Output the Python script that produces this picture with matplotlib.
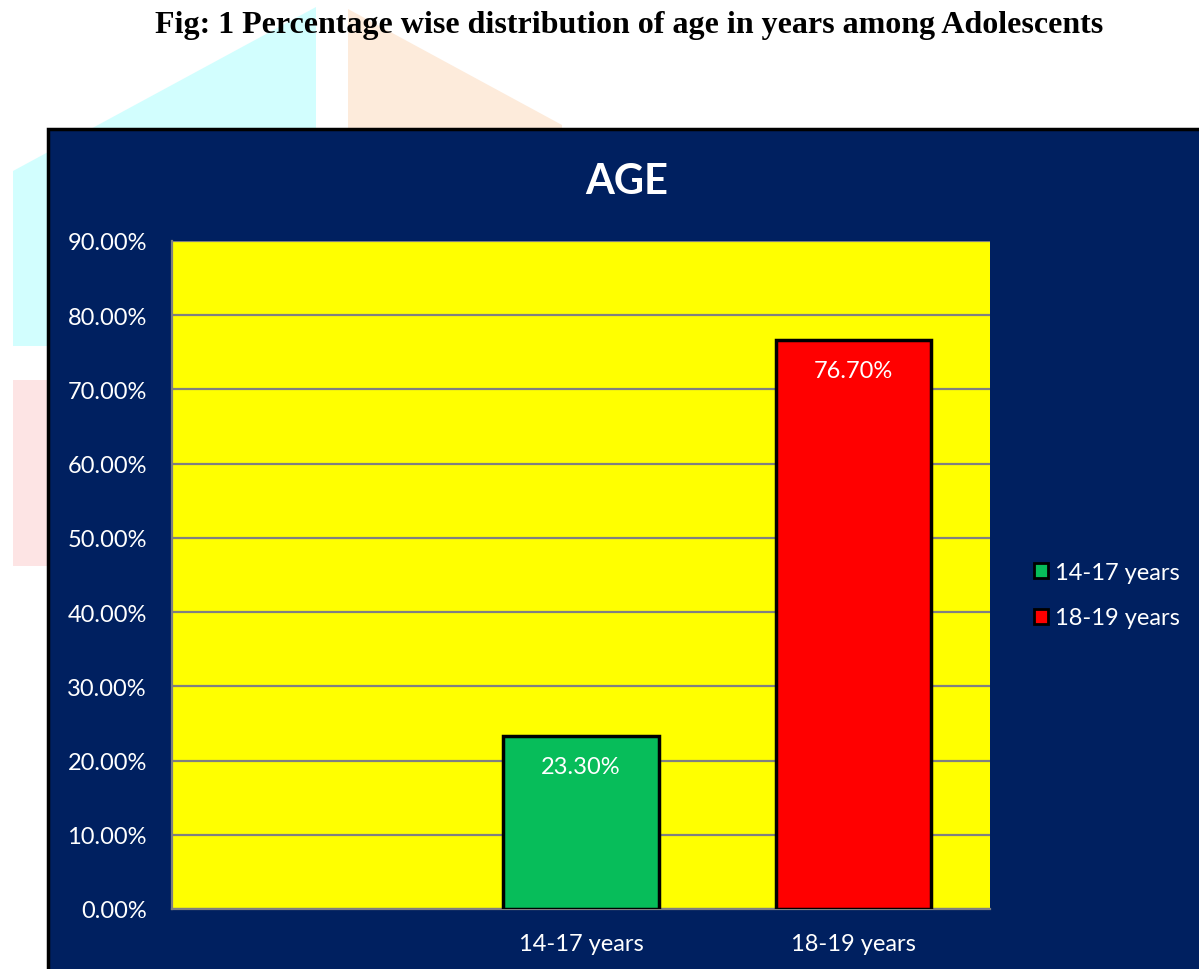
"""Age distribution bar chart (Excel-style)."""

import matplotlib

matplotlib.use("Agg")
import matplotlib.pyplot as plt
from matplotlib.patches import Patch, Polygon, Rectangle
from matplotlib.ticker import FuncFormatter

categories = ["", "14-17 years", "18-19 years"]
series_names = ["14-17 years", "18-19 years"]
series_pos = [1, 2]
series_values = [23.30, 76.70]
series_colors = ["#07BD5A", "#FF0000"]
y_ticks = [0, 10, 20, 30, 40, 50, 60, 70, 80, 90]

NAVY = "#002060"
W, H = 1199, 970

plt.rcParams["font.family"] = ["Lato", "DejaVu Sans"]

fig = plt.figure(figsize=(W / 100, H / 100), dpi=100)
fig.patch.set_facecolor("white")


def px(points):
    return [(x / W, 1 - y / H) for x, y in points]


# faint watermark pieces behind the chart box
fig.patches.append(Polygon(px([(316, 8), (316, 347), (13, 347), (13, 172)]),
                           closed=True, transform=fig.transFigure,
                           facecolor="#D2FEFE", edgecolor="none", zorder=0))
fig.patches.append(Polygon(px([(348, 10), (348, 130), (562, 130), (562, 126)]),
                           closed=True, transform=fig.transFigure,
                           facecolor="#FDEBDB", edgecolor="none", zorder=0))
fig.patches.append(Polygon(px([(13, 381), (48, 381), (48, 567), (13, 567)]),
                           closed=True, transform=fig.transFigure,
                           facecolor="#FDE4E4", edgecolor="none", zorder=0))

# navy chart box with black frame on left/top
fig.patches.append(Rectangle((48 / W, -0.01), 1.0, (H - 130) / H + 0.01,
                             transform=fig.transFigure, facecolor=NAVY,
                             edgecolor="black", linewidth=2.5, zorder=1))

fig.text(629 / W, 1 - 26 / H,
         "Fig: 1 Percentage wise distribution of age in years among Adolescents",
         ha="center", va="center", fontsize=23, fontweight="bold",
         family=["Liberation Serif", "DejaVu Serif"], color="black")
fig.text(627 / W, 1 - 182 / H, "AGE", ha="center", va="center",
         fontsize=30, fontweight="bold", color="white")

ax = fig.add_axes([172 / W, 1 - 910 / H, (990 - 172) / W, (910 - 242) / H])
ax.set_facecolor("#FFFF00")
ax.set_zorder(2)

bars = ax.bar(series_pos, series_values, width=0.57, color=series_colors,
              edgecolor="black", linewidth=2.5, zorder=3)
for rect, val in zip(bars, series_values):
    ax.annotate(f"{val:.2f}%", (rect.get_x() + rect.get_width() / 2, val),
                xytext=(0, -22), textcoords="offset points",
                ha="center", va="center", color="white", fontsize=17, zorder=4)

ax.set_xlim(-0.5, len(categories) - 0.5)
ax.set_ylim(0, 90)
ax.set_xticks(range(len(categories)))
ax.set_xticklabels(categories)
ax.set_yticks(y_ticks)
ax.yaxis.set_major_formatter(FuncFormatter(lambda v, _: f"{v:.2f}%"))
ax.tick_params(axis="both", length=0, colors="white", labelsize=17)
ax.tick_params(axis="y", pad=18)
ax.tick_params(axis="x", pad=17)
ax.set_axisbelow(True)
ax.grid(axis="y", color="#808080", linewidth=1.6)
for side in ("top", "right"):
    ax.spines[side].set_visible(False)
for side in ("left", "bottom"):
    ax.spines[side].set_color("#808080")
    ax.spines[side].set_linewidth(1.6)

handles = [Patch(facecolor=c, edgecolor="black", linewidth=2) for c in series_colors]
leg = fig.legend(handles, series_names, loc="center left",
                 bbox_to_anchor=(1022 / W, 1 - 596 / H), frameon=False,
                 fontsize=17, handlelength=0.6, handleheight=0.6,
                 handletextpad=0.3, labelspacing=1.05, borderpad=0)
for t in leg.get_texts():
    t.set_color("white")

fig.savefig("out.png", dpi=100, facecolor=fig.get_facecolor())
